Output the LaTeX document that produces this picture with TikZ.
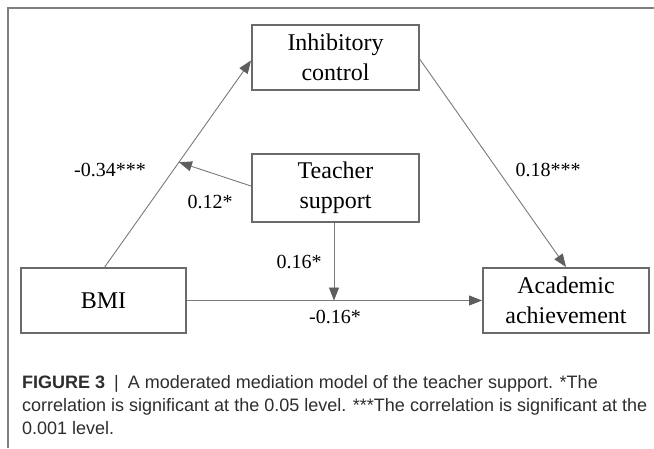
\documentclass[tikz,border=0pt]{standalone}
\usepackage{fontspec}
\setmainfont{Liberation Serif}
\newfontfamily\capfont{Liberation Sans}
\usetikzlibrary{arrows.meta,calc}
\definecolor{boxgray}{HTML}{6A6A6A}
\definecolor{linegray}{HTML}{7A7A7A}
\definecolor{tipgray}{HTML}{5E5E5E}
\definecolor{capgray}{HTML}{2E2E2E}
\definecolor{framegray}{HTML}{808080}
\begin{document}
\begin{tikzpicture}[x=1pt,y=-1pt,
  varbox/.style={draw=boxgray,line width=2pt,fill=white,inner sep=0pt,align=center,
    font=\fontsize{24}{30}\selectfont},
  conn/.style={draw=linegray,line width=0.9pt,-{Triangle[length=13pt,width=10pt,fill=tipgray,color=tipgray]}},
  coef/.style={font=\fontsize{20}{24}\selectfont,inner sep=0pt},
  capline/.style={font=\capfont\fontsize{18}{22}\selectfont,text=capgray,anchor=base west,inner sep=0pt}
]
\useasboundingbox (0,0) rectangle (654,448);
\fill[white] (0,0) rectangle (654,448);
\draw[framegray,line width=1.3pt] (8,448) -- (8,8) -- (654,8);

\node[varbox,minimum width=167pt,minimum height=65pt] (inh) at (335.5,57.5) {Inhibitory\\control};
\node[varbox,minimum width=167pt,minimum height=68pt] (tea) at (335.5,188) {Teacher\\support};
\node[varbox,minimum width=165pt,minimum height=65pt] (bmi) at (103.5,300.5) {BMI};
\node[varbox,minimum width=166pt,minimum height=65pt] (aca) at (566,300.5) {Academic\\achievement};

\coordinate (inhW) at ($(inh.west)+(0,3)$);
\coordinate (bmiN) at (104,268);
\coordinate (inhE) at ($(inh.east)+(0,2)$);
\draw[conn] (bmiN) -- (inhW);
\draw[conn] (inhE) -- (aca.north);
\draw[conn] (bmi.east) -- (aca.west);
\coordinate (m1) at (334,300.5);
\draw[conn] (tea.south -| m1) -- (m1);
\coordinate (m2) at ($(bmiN)!0.51!(inhW)$);
\draw[conn] ($(tea.west)+(0,-2)$) -- (m2);

\node[coef] (l1) at (110,170) {-0.34***};
\node[coef] (l2) at (210,202) {0.12*};
\node[coef] (l3) at (548,170) {0.18***};
\node[coef] (l4) at (299,262) {0.16*};
\node[coef] (l5) at (335,317) {-0.16*};

\node[capline] (c1) at (22,388) {\textbf{FIGURE 3}\hspace{9pt}|\hspace{9pt}A moderated mediation model of the teacher support. *The};
\node[capline] (c2) at (22,411) {correlation is significant at the 0.05 level. ***The correlation is significant at the};
\node[capline] (c3) at (22,434) {0.001 level.};
\end{tikzpicture}
\end{document}
